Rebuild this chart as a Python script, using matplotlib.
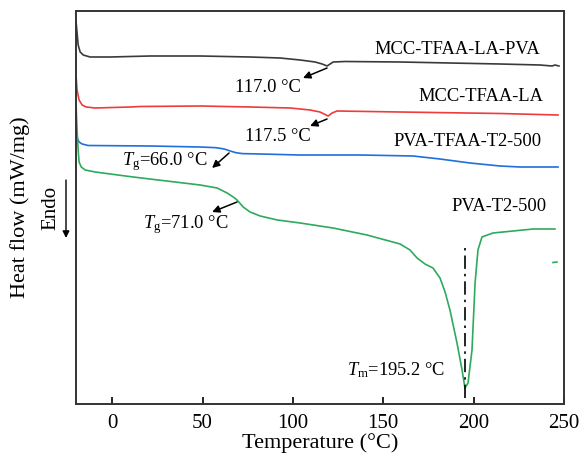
import matplotlib
matplotlib.use("Agg")
import matplotlib.pyplot as plt

plt.rcParams['font.family'] = ['Liberation Serif', 'DejaVu Serif']
plt.rcParams['mathtext.fontset'] = 'custom'
plt.rcParams['mathtext.rm'] = 'Liberation Serif'
plt.rcParams['mathtext.it'] = 'Liberation Serif:italic'

# ---------------- data (temperature in degC, heat flow in arbitrary offset units) --------------
t_black = [-19.9, -19.4, -18.8, -17.7, -16.0, -12.2, -1.1, 21.0, 48.7, 76.3, 92.9, 104.0, 112.3,
           116.2, 118.9, 120.6, 122.3, 128.9, 159.3, 186.9, 214.6, 236.7, 243.4, 245.0, 247.2]
hf_black = [381, 371, 359, 352, 349, 347, 347, 348, 348, 347, 346, 344, 342,
            340, 338, 340, 342, 342.5, 342, 341, 340, 339, 338, 339, 338]

t_red = [-19.9, -19.4, -18.3, -16.6, -14.4, -9.4, 10.0, 15.5, 48.7, 76.3, 98.5, 109.5, 115.0,
         119.5, 121.7, 124.4, 159.3, 214.6, 246.7]
hf_red = [326, 314, 304, 299, 297, 296, 297, 297.5, 298, 297, 296, 294, 292,
          288, 291, 293, 292, 290.5, 289]

t_blue = [-19.9, -19.4, -18.3, -16.6, -13.3, 21.0, 48.7, 57.5, 62.0, 65.3, 68.5, 72.0, 81.9, 104.0,
          137.2, 166.5, 181.4, 198.0, 214.6, 225.7, 246.7]
hf_blue = [271, 266, 262, 260, 258.5, 258, 257, 256.3, 255, 253, 251.3, 250.4, 250, 249,
           249, 248, 245, 241, 238, 237, 237]

t_green = [-19.9, -19.4, -18.8, -18.3, -17.1, -14.9, -9.4, 11.6, 48.7, 58.1, 63.6, 67.0, 69.1,
           72.5, 76.3, 81.9, 91.4, 104.0, 122.2, 141.0, 159.3, 164.8, 168.7, 173.1, 177.5,
           181.4, 184.2, 186.9, 190.8, 193.6, 195.2, 196.9, 199.1, 200.8, 202.4, 204.6, 210.7,
           232.9, 245.0]
hf_green = [296, 274, 254, 242, 237, 234, 232, 227, 219, 216, 211, 207, 204,
            197, 192, 188, 184, 181, 176, 169, 160, 154, 146, 140, 136,
            126, 112, 94, 61, 34, 16, 21, 54, 121, 154, 167, 171,
            175, 175]
t_green_tail = [243.9, 246.1]
hf_green_tail = [141.5, 142]

series_names = ['MCC-TFAA-LA-PVA', 'MCC-TFAA-LA', 'PVA-TFAA-T2-500', 'PVA-T2-500']
x_ticks = [0, 50, 100, 150, 200, 250]
tm_value = 195.2

# ---------------- figure ----------------
fig = plt.figure(figsize=(5.81, 4.55), dpi=100)
ax = fig.add_axes([76/581, 1-404/455, (564-76)/581, (404-11)/455])

c_black = '#3a3a3a'
c_red = '#ee3b3b'
c_blue = '#1f6fdc'
c_green = '#2eaa5e'
lw = 1.2

ax.plot(t_black, hf_black, color=c_black, lw=lw)
ax.plot(t_red, hf_red, color=c_red, lw=lw)
ax.plot(t_blue, hf_blue, color=c_blue, lw=lw)
ax.plot(t_green, hf_green, color=c_green, lw=lw)
ax.plot(t_green_tail, hf_green_tail, color=c_green, lw=lw)

ax.set_xlim(-20, 250)
ax.set_ylim(0, 393)
ax.set_xticks(x_ticks)
ax.set_yticks([])
ax.tick_params(axis='x', direction='in', length=5, width=1.2, labelsize=15, pad=7)
for s in ax.spines.values():
    s.set_linewidth(1.4)
    s.set_color('#333333')

ax.set_xlabel('Temperature (°C)', fontsize=16, labelpad=0)
ax.set_ylabel('Heat flow (mW/mg)', fontsize=16, labelpad=33)

fs = 13.3
# curve labels
ax.text(236.7, 354, series_names[0], ha='right', va='center', fontsize=fs)
ax.text(238.4, 307, series_names[1], ha='right', va='center', fontsize=fs)
ax.text(237.8, 262, series_names[2], ha='right', va='center', fontsize=fs)
ax.text(240.6, 197, series_names[3], ha='right', va='center', fontsize=fs)

ap = dict(arrowstyle='-|>', color='black', lw=1.1, mutation_scale=11, shrinkA=0, shrinkB=0)
ax.annotate('', xy=(105.6, 326), xytext=(118.9, 336), arrowprops=ap)
ax.text(86.3, 316, '117.0 °C', ha='center', va='center', fontsize=fs)
ax.annotate('', xy=(109.5, 278), xytext=(118.9, 285), arrowprops=ap)
ax.text(91.8, 267, '117.5 °C', ha='center', va='center', fontsize=fs)
ax.annotate('', xy=(55.3, 236), xytext=(64.7, 251), arrowprops=ap)
ax.text(29.3, 242, r'$T_\mathrm{g}$=66.0 °C', ha='center', va='center', fontsize=fs)
ax.annotate('', xy=(55.3, 192), xytext=(69.1, 202), arrowprops=ap)
ax.text(40.9, 179, r'$T_\mathrm{g}$=71.0 °C', ha='center', va='center', fontsize=fs)
ax.text(157, 34, r'$T_\mathrm{m}$=195.2 °C', ha='center', va='center', fontsize=fs)
ax.plot([tm_value, tm_value], [6, 159], color='black', lw=1.2, ls=(0, (8, 3, 1.5, 3)))

# Endo arrow
fig.text(51/581, 1-208/455, 'Endo', rotation=90, ha='center', va='center', fontsize=15)
fig.patches.append(matplotlib.patches.FancyArrowPatch(
    (66/581, 1-180/455), (66/581, 1-238/455), transform=fig.transFigure,
    arrowstyle='-|>', color='black', lw=1.0, mutation_scale=10, shrinkA=0, shrinkB=0))

fig.savefig('out.png', dpi=100)
